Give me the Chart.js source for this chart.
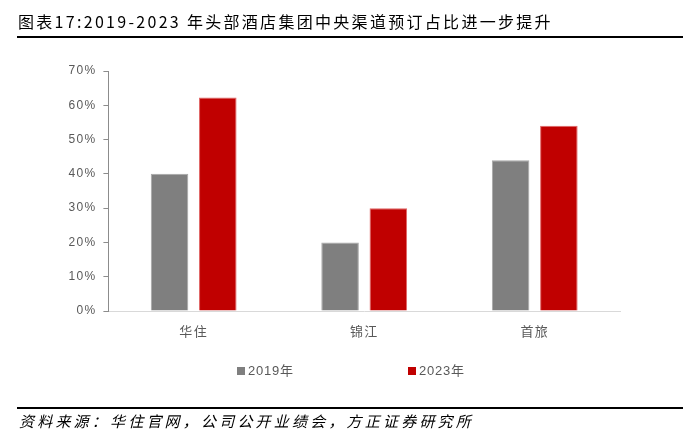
<!DOCTYPE html>
<html>
<head>
<meta charset="utf-8">
<script src="https://cdn.jsdelivr.net/npm/chart.js@4/dist/chart.umd.min.js"></script>
<style>
  html, body { margin: 0; padding: 0; background: #fff; }
  #wrap { position: relative; width: 700px; height: 441px; overflow: hidden; }
  #c { position: absolute; left: 0; top: 0; }
  #title { position: absolute; left: 18px; top: 11px; font: 16px "Noto Sans CJK SC", sans-serif; letter-spacing: 2.3px; line-height: 20px; color: #000; white-space: nowrap; }
  #rule1 { position: absolute; left: 17px; top: 36px; width: 666px; height: 2px; background: #000; }
  #rule2 { position: absolute; left: 17px; top: 407px; width: 666px; height: 2px; background: #000; }
  #foot { position: absolute; left: 19px; top: 411px; font: italic 15px "Noto Sans CJK SC", sans-serif; letter-spacing: 3.2px; line-height: 20px; color: #000; white-space: nowrap; }
  #legend { position: absolute; left: 237px; top: 362px; display: flex; gap: 114px; font: 13px "Liberation Sans", "Noto Sans CJK SC", sans-serif; letter-spacing: 0.8px; color: #595959; line-height: 18px; }
  .li { display: flex; align-items: center; }
  .sw { width: 8px; height: 8px; margin-right: 3px; }
</style>
</head>
<body>
<div id="wrap">
  <canvas id="c" width="700" height="441"></canvas>
  <div id="title">图表17:2019-2023 年头部酒店集团中央渠道预订占比进一步提升</div>
  <div id="rule1"></div>
  <div id="legend"></div>
  <div id="rule2"></div>
  <div id="foot">资料来源：华住官网，公司公开业绩会，方正证券研究所</div>
</div>
<script>
const categories = ['华住', '锦江', '首旅'];
const seriesNames = ['2019年', '2023年'];
const values2019 = [40, 20, 44];
const values2023 = [62.3, 30, 54];
const yTickValues = [0, 10, 20, 30, 40, 50, 60, 70];
const yTickLabels = ['0%', '10%', '20%', '30%', '40%', '50%', '60%', '70%'];

const fills = ['#7f7f7f', '#c00000'];
const edges = ['#a6a6a6', '#e06666'];

const spacingPlugin = {
  id: 'spacing',
  beforeDraw(chart) { chart.ctx.letterSpacing = '1.3px'; }
};

const chart = new Chart(document.getElementById('c'), {
  type: 'bar',
  data: {
    labels: categories,
    datasets: [
      { label: seriesNames[0], data: values2019, backgroundColor: fills[0], borderColor: edges[0], borderWidth: 1 },
      { label: seriesNames[1], data: values2023, backgroundColor: fills[1], borderColor: edges[1], borderWidth: 1 }
    ]
  },
  options: {
    responsive: false,
    animation: false,
    devicePixelRatio: 1,
    layout: { padding: { left: 0, right: 80, top: 71, bottom: 100 } },
    datasets: { bar: { categoryPercentage: 0.566, barPercentage: 0.778 } },
    plugins: { legend: { display: false }, title: { display: false }, tooltip: { enabled: false } },
    scales: {
      x: {
        grid: { display: false, drawTicks: false },
        border: { display: true, color: '#d9d9d9', width: 1 },
        ticks: { color: '#595959', font: { family: '"Noto Sans CJK SC", sans-serif', size: 13 }, padding: 12 },
        afterFit(scale) { scale.height = 30; }
      },
      y: {
        min: 0, max: 70,
        grid: { display: true, drawOnChartArea: false, drawTicks: true, tickLength: 5, color: '#8c8c8c' },
        border: { display: true, color: '#8c8c8c', width: 1 },
        afterBuildTicks(scale) { scale.ticks = yTickValues.map(v => ({ value: v })); },
        ticks: {
          color: '#595959',
          font: { family: '"Liberation Sans", Arial, sans-serif', size: 12 },
          padding: 7,
          callback: (v) => yTickLabels[yTickValues.indexOf(v)]
        },
        afterFit(scale) { scale.width = 108.4; }
      }
    }
  },
  plugins: [spacingPlugin]
});

// HTML legend built from the chart's datasets
const legend = document.getElementById('legend');
chart.data.datasets.forEach(ds => {
  const item = document.createElement('div');
  item.className = 'li';
  const sw = document.createElement('span');
  sw.className = 'sw';
  sw.style.background = ds.backgroundColor;
  const tx = document.createElement('span');
  tx.textContent = ds.label;
  item.appendChild(sw);
  item.appendChild(tx);
  legend.appendChild(item);
});
</script>
</body>
</html>
